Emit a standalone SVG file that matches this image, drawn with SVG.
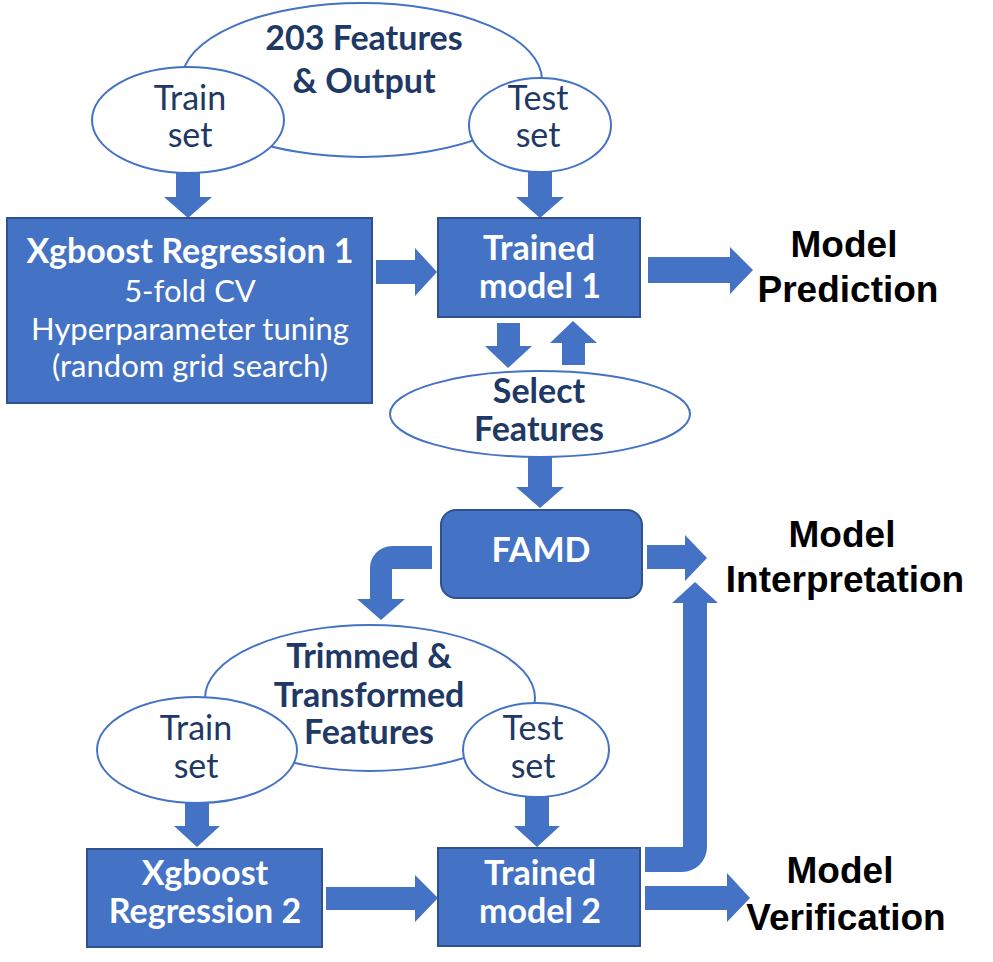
<svg xmlns="http://www.w3.org/2000/svg" width="993" height="962" viewBox="0 0 993 962">
<style>
.box{fill:#4472C4;stroke:#2F528F;stroke-width:2}
.ell{fill:#FFFFFF;stroke:#4472C4;stroke-width:2}
.arr{fill:#4472C4;stroke:none}
.nb{font-family:Lato,"Open Sans","DejaVu Sans",sans-serif;font-weight:bold;font-size:34px;fill:#203864;text-anchor:middle}
.nr{font-family:Lato,"Open Sans","DejaVu Sans",sans-serif;font-size:34px;fill:#203864;text-anchor:middle}
.wb{font-family:Lato,"Open Sans","DejaVu Sans",sans-serif;font-weight:bold;font-size:34px;fill:#FFFFFF;text-anchor:middle}
.wr{font-family:Lato,"Open Sans","DejaVu Sans",sans-serif;font-size:31px;fill:#FFFFFF;text-anchor:middle}
.lab{font-family:"Liberation Sans",Arial,sans-serif;font-weight:bold;font-size:37px;fill:#000000;text-anchor:middle}
</style>
<rect width="993" height="962" fill="#FFFFFF"/>

<g id="connectors">
  <path class="arr" d="M176,173 H200 V197 H212 L188,218 L164,197 H176 Z"/>
  <path class="arr" d="M528,172 H552 V197 H564 L540,218 L516,197 H528 Z"/>
  <path class="arr" d="M376,260 H415 V248 L437,272 L415,296 V284 H376 Z"/>
  <path class="arr" d="M648,257 H730 V247 L753,270 L730,294 V283 H648 Z"/>
  <path class="arr" d="M497,323 H520 V346 H532 L508,368 L485,346 H497 Z"/>
  <path class="arr" d="M562,365 V343 H550 L573,321 L597,343 H585 V365 Z"/>
  <path class="arr" d="M528,457 H552 V487 H564 L540,508 L516,487 H528 Z"/>
  <path class="arr" d="M647,545 H685 V535 L707,558 L685,581 V569 H647 Z"/>
  <path class="arr" d="M432,546 H392 A22 22 0 0 0 370,568 V599 H357 L381,620 L405,599 H392 V569 H432 Z"/>
  <path class="arr" d="M185,802 H209 V826 H220 L197,847 L174,826 H185 Z"/>
  <path class="arr" d="M525,797 H549 V826 H560 L537,847 L514,826 H525 Z"/>
  <path class="arr" d="M326,887 H415 V875 L438,898 L415,922 V910 H326 Z"/>
  <path class="arr" d="M645,886 H727 V873 L750,898 L727,922 V910 H645 Z"/>
  <path class="arr" d="M645,847 H683 V603 H672 L695,582 L718,603 H707 V847 A25 25 0 0 1 682,872 H645 Z"/>
</g>

<g id="features203">
  <ellipse class="ell" cx="362" cy="80" rx="180" ry="77"/>
  <text class="nb" x="364" y="50">203 Features</text>
  <text class="nb" x="364" y="93">&amp; Output</text>
</g>
<g id="trainset1">
  <ellipse class="ell" cx="188" cy="120" rx="96" ry="53"/>
  <text class="nr" x="190" y="110">Train</text>
  <text class="nr" x="190" y="147">set</text>
</g>
<g id="testset1">
  <ellipse class="ell" cx="540" cy="125" rx="71" ry="47"/>
  <text class="nr" x="538" y="110">Test</text>
  <text class="nr" x="538" y="147">set</text>
</g>
<g id="xgboost1">
  <rect class="box" x="7" y="218" width="365" height="185"/>
  <text class="wb" x="190" y="263">Xgboost Regression 1</text>
  <text class="wr" x="190" y="302">5-fold CV</text>
  <text class="wr" x="190" y="340">Hyperparameter tuning</text>
  <text class="wr" x="190" y="377">(random grid search)</text>
</g>
<g id="trained1">
  <rect class="box" x="438" y="218" width="202" height="99"/>
  <text class="wb" x="539" y="260">Trained</text>
  <text class="wb" x="540" y="298">model 1</text>
</g>
<g id="prediction">
  <text class="lab" x="844" y="257">Model</text>
  <text class="lab" x="848" y="302">Prediction</text>
</g>
<g id="selectfeatures">
  <ellipse class="ell" cx="540" cy="414" rx="150" ry="43"/>
  <text class="nb" x="539" y="403">Select</text>
  <text class="nb" x="539" y="441">Features</text>
</g>
<g id="famd">
  <rect class="box" x="441" y="510" width="201" height="88" rx="15" ry="15"/>
  <text class="wb" x="541" y="562">FAMD</text>
</g>
<g id="interpretation">
  <text class="lab" x="842" y="547">Model</text>
  <text class="lab" x="845" y="592">Interpretation</text>
</g>
<g id="trimmed">
  <ellipse class="ell" cx="370" cy="698" rx="165" ry="73"/>
  <text class="nb" x="369" y="668">Trimmed &amp;</text>
  <text class="nb" x="369" y="707">Transformed</text>
  <text class="nb" x="369" y="744">Features</text>
</g>
<g id="trainset2">
  <ellipse class="ell" cx="197" cy="750" rx="100" ry="53"/>
  <text class="nr" x="196" y="740">Train</text>
  <text class="nr" x="196" y="778">set</text>
</g>
<g id="testset2">
  <ellipse class="ell" cx="536" cy="750" rx="73" ry="47"/>
  <text class="nr" x="533" y="740">Test</text>
  <text class="nr" x="533" y="778">set</text>
</g>
<g id="xgboost2">
  <rect class="box" x="87" y="849" width="235" height="98"/>
  <text class="wb" x="205" y="885">Xgboost</text>
  <text class="wb" x="205" y="923">Regression 2</text>
</g>
<g id="trained2">
  <rect class="box" x="438" y="848" width="202" height="98"/>
  <text class="wb" x="540" y="885">Trained</text>
  <text class="wb" x="540" y="923">model 2</text>
</g>
<g id="verification">
  <text class="lab" x="840" y="883">Model</text>
  <text class="lab" x="846" y="930">Verification</text>
</g>
</svg>
